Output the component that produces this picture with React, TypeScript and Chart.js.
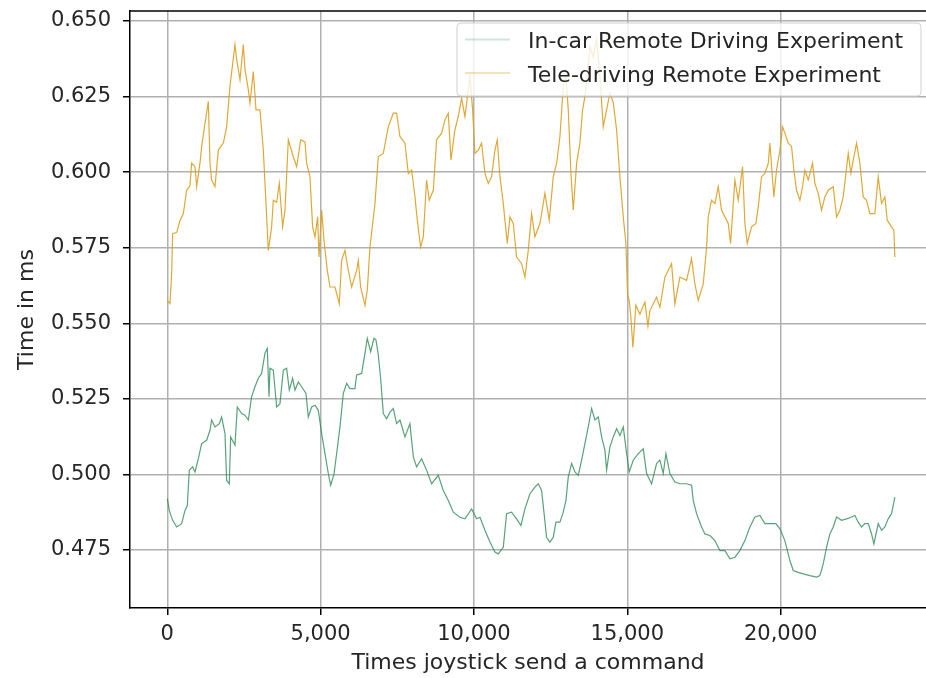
import React, { useEffect, useRef } from "react";
import { Chart, registerables } from "chart.js";

Chart.register(...registerables);

const xTicks = [0, 5000, 10000, 15000, 20000];
const yTicks = [0.475, 0.5, 0.525, 0.55, 0.575, 0.6, 0.625, 0.65];
const seriesNames = ["In-car Remote Driving Experiment", "Tele-driving Remote Experiment"];
const xTitle = "Times joystick send a command";
const yTitle = "Time in ms";

const inCarX = [0, 66, 175, 305, 468, 577, 653, 718, 827, 903, 1012, 1120, 1283, 1392, 1446, 1555, 1696, 1772, 1881, 1935, 2022, 2066, 2207, 2283, 2424, 2533, 2642, 2750, 2859, 2968, 3076, 3185, 3261, 3316, 3348, 3457, 3565, 3674, 3783, 3891, 3978, 4087, 4163, 4272, 4380, 4522, 4598, 4707, 4815, 4924, 5033, 5141, 5250, 5326, 5435, 5522, 5630, 5739, 5848, 5956, 6119, 6174, 6337, 6445, 6521, 6630, 6738, 6804, 6880, 6956, 7043, 7152, 7260, 7369, 7477, 7586, 7749, 7912, 8021, 8129, 8292, 8455, 8618, 8836, 8999, 9162, 9325, 9542, 9705, 9922, 10085, 10194, 10357, 10520, 10683, 10792, 10955, 11063, 11226, 11389, 11531, 11661, 11824, 11987, 12096, 12204, 12281, 12367, 12476, 12585, 12672, 12802, 12911, 12998, 13074, 13183, 13291, 13400, 13509, 13617, 13726, 13835, 13943, 14052, 14161, 14269, 14324, 14432, 14541, 14650, 14758, 14867, 14976, 15062, 15193, 15356, 15519, 15628, 15791, 15953, 16062, 16171, 16258, 16388, 16551, 16714, 16931, 17094, 17149, 17257, 17420, 17529, 17692, 17855, 18018, 18181, 18344, 18507, 18670, 18833, 18996, 19159, 19322, 19485, 19648, 19844, 19974, 20137, 20300, 20409, 20572, 20735, 20953, 21170, 21279, 21387, 21496, 21604, 21713, 21822, 21985, 22148, 22311, 22419, 22528, 22637, 22745, 22854, 22963, 23039, 23180, 23289, 23397, 23506, 23615, 23723];
const inCarY = [0.492, 0.4881, 0.4848, 0.4826, 0.4837, 0.4881, 0.4897, 0.5014, 0.5025, 0.5008, 0.5052, 0.5102, 0.5113, 0.5146, 0.518, 0.5157, 0.5168, 0.519, 0.5135, 0.498, 0.4969, 0.5124, 0.5097, 0.5223, 0.5201, 0.5196, 0.518, 0.5257, 0.529, 0.5318, 0.5334, 0.5401, 0.5417, 0.5257, 0.5351, 0.5345, 0.5223, 0.5234, 0.5345, 0.5351, 0.5279, 0.5318, 0.5279, 0.5306, 0.529, 0.5268, 0.519, 0.5223, 0.5229, 0.5212, 0.5135, 0.5069, 0.5003, 0.4964, 0.5, 0.5069, 0.5157, 0.5268, 0.5301, 0.5284, 0.5284, 0.5329, 0.5334, 0.5401, 0.545, 0.5406, 0.545, 0.5445, 0.5395, 0.5318, 0.5201, 0.5184, 0.5206, 0.5218, 0.5168, 0.518, 0.5124, 0.5168, 0.5058, 0.5025, 0.5052, 0.5014, 0.4969, 0.4997, 0.4947, 0.4914, 0.4875, 0.4858, 0.4853, 0.4886, 0.4853, 0.4858, 0.4815, 0.4776, 0.4743, 0.4737, 0.4759, 0.487, 0.4875, 0.4853, 0.4831, 0.4886, 0.4936, 0.4958, 0.4969, 0.4947, 0.4875, 0.4792, 0.4776, 0.4792, 0.4842, 0.4842, 0.4875, 0.4914, 0.4992, 0.5036, 0.5008, 0.4997, 0.5047, 0.5102, 0.5157, 0.5218, 0.518, 0.519, 0.5124, 0.508, 0.5014, 0.5091, 0.5124, 0.5151, 0.5129, 0.5157, 0.5069, 0.5008, 0.5047, 0.5069, 0.5085, 0.5003, 0.4969, 0.5036, 0.5047, 0.5003, 0.5069, 0.5003, 0.4975, 0.4969, 0.4969, 0.4964, 0.4914, 0.487, 0.4826, 0.4803, 0.4798, 0.4781, 0.4748, 0.4748, 0.4721, 0.4726, 0.4748, 0.4781, 0.4826, 0.4859, 0.4864, 0.4837, 0.4837, 0.4837, 0.482, 0.4781, 0.4715, 0.4682, 0.4676, 0.4671, 0.4665, 0.466, 0.4665, 0.4704, 0.4759, 0.4803, 0.4826, 0.4859, 0.4848, 0.4853, 0.4859, 0.4864, 0.4842, 0.4826, 0.4837, 0.4837, 0.4803, 0.477, 0.4837, 0.4815, 0.4826, 0.4853, 0.487, 0.4925];

const teleX = [0, 88, 142, 175, 305, 414, 523, 631, 740, 794, 903, 957, 1066, 1120, 1229, 1338, 1392, 1446, 1555, 1664, 1827, 1935, 2044, 2207, 2261, 2370, 2479, 2533, 2642, 2696, 2805, 2892, 3022, 3131, 3185, 3294, 3402, 3457, 3565, 3652, 3761, 3837, 3946, 4109, 4218, 4348, 4489, 4544, 4652, 4739, 4815, 4902, 4946, 5033, 5119, 5217, 5304, 5467, 5608, 5684, 5793, 5902, 6011, 6174, 6228, 6304, 6445, 6521, 6608, 6771, 6880, 7043, 7206, 7369, 7477, 7586, 7749, 7858, 7966, 8075, 8151, 8260, 8347, 8455, 8542, 8673, 8781, 8944, 9053, 9162, 9249, 9379, 9488, 9596, 9705, 9814, 9868, 9955, 10031, 10140, 10248, 10357, 10466, 10574, 10683, 10759, 10846, 10955, 11085, 11172, 11281, 11389, 11552, 11661, 11770, 11878, 11987, 12150, 12313, 12454, 12585, 12694, 12802, 12911, 12998, 13074, 13161, 13237, 13346, 13454, 13541, 13617, 13693, 13780, 13889, 13998, 14106, 14215, 14324, 14432, 14541, 14650, 14758, 14867, 14954, 15008, 15062, 15116, 15181, 15279, 15410, 15573, 15671, 15736, 15953, 16062, 16225, 16442, 16551, 16714, 16931, 17094, 17203, 17312, 17475, 17583, 17638, 17746, 17855, 17964, 18072, 18181, 18290, 18366, 18507, 18616, 18757, 18833, 18909, 19050, 19192, 19268, 19376, 19485, 19594, 19648, 19778, 19865, 19974, 20061, 20137, 20246, 20354, 20430, 20517, 20626, 20713, 20789, 20898, 21039, 21115, 21224, 21333, 21441, 21550, 21713, 21822, 21930, 22039, 22126, 22202, 22289, 22387, 22474, 22582, 22691, 22800, 22908, 23071, 23180, 23289, 23397, 23474, 23615, 23690, 23723];
const teleY = [0.5575, 0.5565, 0.5664, 0.5797, 0.58, 0.584, 0.5863, 0.594, 0.5955, 0.603, 0.6018, 0.5952, 0.603, 0.6084, 0.6162, 0.6234, 0.603, 0.5974, 0.5952, 0.6073, 0.6096, 0.615, 0.6284, 0.6422, 0.6372, 0.6306, 0.6422, 0.634, 0.6273, 0.6228, 0.6333, 0.6206, 0.6206, 0.6073, 0.5963, 0.5741, 0.5819, 0.5907, 0.59, 0.5963, 0.5819, 0.5874, 0.6107, 0.6051, 0.6018, 0.6107, 0.61, 0.6029, 0.5985, 0.5819, 0.5786, 0.5852, 0.5719, 0.5874, 0.5764, 0.5675, 0.562, 0.562, 0.5564, 0.5708, 0.5741, 0.5675, 0.562, 0.5675, 0.5708, 0.562, 0.5559, 0.561, 0.5752, 0.5896, 0.6051, 0.6062, 0.615, 0.6195, 0.6195, 0.6118, 0.6096, 0.5996, 0.6007, 0.5919, 0.5841, 0.5752, 0.5786, 0.5974, 0.5907, 0.594, 0.6107, 0.6129, 0.6173, 0.6195, 0.604, 0.614, 0.6184, 0.6245, 0.6184, 0.6273, 0.6317, 0.6206, 0.6062, 0.6073, 0.6096, 0.5996, 0.5963, 0.5985, 0.6073, 0.6107, 0.5985, 0.5896, 0.5764, 0.5852, 0.583, 0.5719, 0.5697, 0.5653, 0.5741, 0.5863, 0.5786, 0.583, 0.593, 0.5841, 0.5985, 0.6029, 0.6118, 0.6284, 0.6317, 0.6206, 0.5996, 0.5874, 0.6029, 0.6096, 0.6206, 0.625, 0.6317, 0.6416, 0.638, 0.6439, 0.6317, 0.615, 0.6206, 0.6262, 0.623, 0.614, 0.5985, 0.5852, 0.5764, 0.5597, 0.5575, 0.552, 0.542, 0.556, 0.553, 0.557, 0.549, 0.5542, 0.5586, 0.5553, 0.5653, 0.5697, 0.5564, 0.5653, 0.5642, 0.5714, 0.563, 0.5575, 0.563, 0.5752, 0.5852, 0.5907, 0.5896, 0.5952, 0.5874, 0.5852, 0.583, 0.5764, 0.5974, 0.5907, 0.6018, 0.583, 0.5764, 0.5819, 0.583, 0.5885, 0.5985, 0.5996, 0.6029, 0.6096, 0.5918, 0.6007, 0.6073, 0.615, 0.6129, 0.6096, 0.6085, 0.6007, 0.594, 0.5907, 0.5952, 0.6007, 0.5974, 0.6029, 0.5963, 0.593, 0.5874, 0.5918, 0.594, 0.5952, 0.5852, 0.5874, 0.5918, 0.5996, 0.6062, 0.5996, 0.6051, 0.6096, 0.6029, 0.5918, 0.5907, 0.5863, 0.5863, 0.5985, 0.5896, 0.5918, 0.5841, 0.5819, 0.5808, 0.5719];

const FONT = "'DejaVu Sans', sans-serif";
const GREEN = "rgba(46,139,87,0.8)";
const ORANGE = "rgba(218,160,32,0.9)";
const GREEN_LEGEND = "rgba(46,139,87,0.22)";
const ORANGE_LEGEND = "rgba(218,160,32,0.3)";
const TEXT = "#262626";

export default function App() {
  const ref = useRef<HTMLCanvasElement>(null);

  useEffect(() => {
    const canvas = ref.current;
    if (!canvas) return;

    const topSpine = {
      id: "topSpine",
      afterDraw(chart: any) {
        const { ctx, chartArea } = chart;
        ctx.save();
        ctx.strokeStyle = "#000";
        ctx.lineWidth = 1.5;
        ctx.beginPath();
        ctx.moveTo(chartArea.left, chartArea.top);
        ctx.lineTo(chartArea.right, chartArea.top);
        ctx.stroke();
        ctx.restore();
      },
    };

    const legendBox = {
      id: "legendBox",
      afterDraw(chart: any) {
        const { ctx } = chart;
        ctx.save();
        const x0 = 457, y0 = 23, w = 464, h = 73, r = 4;
        ctx.beginPath();
        ctx.moveTo(x0 + r, y0);
        ctx.lineTo(x0 + w - r, y0);
        ctx.arcTo(x0 + w, y0, x0 + w, y0 + r, r);
        ctx.lineTo(x0 + w, y0 + h - r);
        ctx.arcTo(x0 + w, y0 + h, x0 + w - r, y0 + h, r);
        ctx.lineTo(x0 + r, y0 + h);
        ctx.arcTo(x0, y0 + h, x0, y0 + h - r, r);
        ctx.lineTo(x0, y0 + r);
        ctx.arcTo(x0, y0, x0 + r, y0, r);
        ctx.closePath();
        ctx.fillStyle = "rgba(255,255,255,0.8)";
        ctx.fill();
        ctx.strokeStyle = "#d0d0d0";
        ctx.lineWidth = 1;
        ctx.stroke();

        const colors = [GREEN_LEGEND, ORANGE_LEGEND];
        const lineYs = [39.5, 73];
        const baseYs = [48, 81.5];
        ctx.font = `22px ${FONT}`;
        ctx.textAlign = "left";
        ctx.textBaseline = "alphabetic";
        for (let i = 0; i < seriesNames.length; i++) {
          ctx.strokeStyle = colors[i];
          ctx.lineWidth = 2;
          ctx.beginPath();
          ctx.moveTo(465, lineYs[i]);
          ctx.lineTo(510, lineYs[i]);
          ctx.stroke();
          ctx.fillStyle = TEXT;
          ctx.fillText(seriesNames[i], 528, baseYs[i]);
        }
        ctx.restore();
      },
    };

    const chart = new Chart(canvas, {
      type: "line",
      data: {
        datasets: [
          {
            label: seriesNames[0],
            data: inCarX.map((x, i) => ({ x, y: inCarY[i] })),
            borderColor: GREEN,
            borderWidth: 1.2,
            pointRadius: 0,
            tension: 0,
            fill: false,
          },
          {
            label: seriesNames[1],
            data: teleX.map((x, i) => ({ x, y: teleY[i] })),
            borderColor: ORANGE,
            borderWidth: 1.2,
            pointRadius: 0,
            tension: 0,
            fill: false,
          },
        ],
      },
      options: {
        responsive: false,
        animation: false,
        devicePixelRatio: 1,
        layout: { padding: { top: 11, left: 0, right: 0, bottom: 0 } },
        plugins: {
          legend: { display: false },
          tooltip: { enabled: false },
        },
        scales: {
          x: {
            type: "linear",
            min: -1216,
            max: 24738,
            afterBuildTicks: (s: any) => {
              s.ticks = xTicks.map((v) => ({ value: v }));
            },
            afterFit: (s: any) => {
              s.height = 70;
              s.paddingLeft = 0;
              s.paddingRight = 0;
            },
            grid: {
              color: "#b0b0b0",
              lineWidth: 1.5,
              tickLength: 7,
              tickColor: "#000",
              tickWidth: 1.5,
            },
            border: { color: "#000", width: 1.5 },
            ticks: {
              font: { family: FONT, size: 21 },
              color: TEXT,
              padding: 7,
              maxRotation: 0,
              autoSkip: false,
              callback: (v: any) => Number(v).toLocaleString("en-US"),
            },
            title: {
              display: true,
              text: xTitle,
              font: { family: FONT, size: 22 },
              color: TEXT,
              padding: { top: 0, bottom: 1.5 },
            },
          },
          y: {
            type: "linear",
            min: 0.4558,
            max: 0.65331,
            afterBuildTicks: (s: any) => {
              s.ticks = yTicks.map((v) => ({ value: v }));
            },
            afterFit: (s: any) => {
              s.width = 130;
              s.paddingTop = 0;
              s.paddingBottom = 0;
            },
            grid: {
              color: "#b0b0b0",
              lineWidth: 1.5,
              tickLength: 7,
              tickColor: "#000",
              tickWidth: 1.5,
            },
            border: { color: "#000", width: 1.5 },
            ticks: {
              font: { family: FONT, size: 21 },
              color: TEXT,
              padding: 12,
              autoSkip: false,
              callback: (v: any) => Number(v).toFixed(3),
            },
            title: {
              display: true,
              text: yTitle,
              font: { family: FONT, size: 22 },
              color: TEXT,
              padding: { top: 14, bottom: 0 },
            },
          },
        },
      },
      plugins: [topSpine, legendBox],
    } as any);

    return () => chart.destroy();
  }, []);

  return (
    <div style={{ position: "fixed", left: 0, top: 0, width: 926, height: 678, background: "#fff" }}>
      <canvas ref={ref} width={926} height={678} style={{ display: "block" }} />
    </div>
  );
}
